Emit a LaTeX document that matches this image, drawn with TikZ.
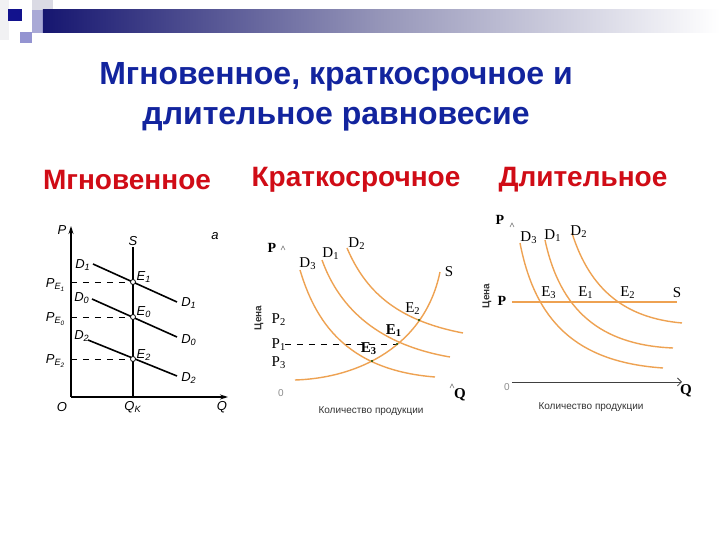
\documentclass[tikz,border=0pt]{standalone}
\usepackage{fontspec}
\setmainfont{Liberation Serif}
\setsansfont{Liberation Sans}
\usetikzlibrary{arrows.meta}
\definecolor{titleblue}{RGB}{18,36,158}
\definecolor{headred}{RGB}{208,12,22}
\definecolor{curveor}{RGB}{238,162,82}
\definecolor{barnavy}{RGB}{22,22,112}
\definecolor{barmid}{RGB}{150,150,185}

\begin{document}
\begin{tikzpicture}[x=0.5pt,y=-0.5pt,
    every text node part/.style={align=center},
    title/.style={font=\sffamily\bfseries\fontsize{16}{20}\selectfont, text=titleblue},
    head/.style={font=\sffamily\bfseries\fontsize{14}{16}\selectfont, text=headred},
    blab/.style={font=\sffamily\itshape\fontsize{6.5}{7}\selectfont, inner sep=0pt},
    slab/.style={font=\fontsize{7.5}{8}\selectfont, inner sep=0pt},
    smalltxt/.style={font=\sffamily\fontsize{5}{6}\selectfont, inner sep=0pt, text=black!80},
    dem/.style={curveor, line width=0.7pt},
    eqpt/.style={circle, draw, fill=white, inner sep=0pt, minimum size=2.5pt},
    tick/.style={black!55, line width=0.3pt}]
  \useasboundingbox[fill=white] (0,0) rectangle (720,540);

  % top bar
  \fill[blue!6!gray!10] (0,0) rectangle (9,40);
  \fill[blue!15!gray!25] (32,0) rectangle (53,10);
  \fill[blue!35!gray!50] (32,10) rectangle (43,33);
  \shade[left color=barnavy, right color=white, middle color=barmid] (43,10) rectangle (720,33);
  \fill[barnavy!80!blue] (8,9) rectangle (22,21);
  \fill[blue!40!gray!60] (20,32) rectangle (32,43);

  % titles
  \node[title] (Title) at (336,97) {Мгновенное, краткосрочное и\\длительное равновесие};
  \node[head] (HdMom) at (127,180) {Мгновенное};
  \node[head] (HdShort) at (356,180) {Краткосрочное};
  \node[head] (HdLong) at (583,180) {Длительное};

  % instant
  \draw[-{Stealth[length=4pt,width=2.5pt]}, line width=0.6pt] (71,397) -- (71,226);
  \draw[-{Stealth[length=4pt,width=2.5pt]}, line width=0.6pt] (71,397) -- (228,397);
  \node[blab] (MP) at (62,230) {P};
  \node[blab] (MO) at (62,407) {O};
  \node[blab] (MQ) at (222,407) {Q};
  \node[blab] (MQk) at (133,407) {Q\textsubscript{K}};
  \node[blab] (MS) at (133,241) {S};
  \node[blab] (Ma) at (215,236) {a};
  \draw[line width=1.1pt] (133,397) -- (133,247);

  \coordinate (ME1) at (133,282);
  \coordinate (ME0) at (133,317);
  \coordinate (ME2) at (133,359);
  \draw[line width=0.8pt] (93,264) -- (177,302);
  \draw[line width=0.8pt] (92,299) -- (177,337);
  \draw[line width=0.8pt] (88,340) -- (177,376);
  \draw[dashed] (71,282) -- (ME1);
  \draw[dashed] (71,317) -- (ME0);
  \draw[dashed] (71,359) -- (ME2);
  \node[eqpt] at (ME1) {};
  \node[eqpt] at (ME0) {};
  \node[eqpt] at (ME2) {};

  \node[blab] (MD1a) at (83,265) {D\textsubscript{1}};
  \node[blab] (MD1b) at (189,303) {D\textsubscript{1}};
  \node[blab] (MD0a) at (82,298) {D\textsubscript{0}};
  \node[blab] (MD0b) at (189,340) {D\textsubscript{0}};
  \node[blab] (MD2a) at (82,336) {D\textsubscript{2}};
  \node[blab] (MD2b) at (189,378) {D\textsubscript{2}};
  \node[blab] (MLE1) at (144,277) {E\textsubscript{1}};
  \node[blab] (MLE0) at (144,312) {E\textsubscript{0}};
  \node[blab] (MLE2) at (144,355) {E\textsubscript{2}};
  \node[blab] (MPE1) at (56,285) {P\textsubscript{E\textsubscript{1}}};
  \node[blab] (MPE0) at (56,319) {P\textsubscript{E\textsubscript{0}}};
  \node[blab] (MPE2) at (56,361) {P\textsubscript{E\textsubscript{2}}};

  % short run
  \node[slab, font=\bfseries\fontsize{7}{8}\selectfont] (KP) at (272,248) {P};
  \draw[tick] (281,250) -- (283,246) -- (285,250);
  \node[smalltxt, font=\sffamily\bfseries\fontsize{5}{6}\selectfont, rotate=90] (KCena) at (259,318) {Цена};
  \node[slab] (KP2) at (279,320) {P\textsubscript{2}};
  \node[slab] (KP1) at (279,345) {P\textsubscript{1}};
  \node[slab] (KP3) at (279,363) {P\textsubscript{3}};
  \node[smalltxt, text=black!45] (KO) at (281,393) {0};
  \node[slab, font=\bfseries\fontsize{7.5}{8}\selectfont] (KQ) at (460,395) {Q};
  \draw[tick] (450,388) -- (452,384) -- (454,388);
  \node[smalltxt] (KQty) at (371,411) {Количество продукции};

  \coordinate (KE1) at (397,344);
  \draw[dashed, line width=0.4pt] (285,344) -- (KE1);
  \draw[dem] (300,270) .. controls (315,320) and (345,370) .. (435,377);
  \draw[dem] (322,260) .. controls (340,310) and (380,345) .. (450,357);
  \draw[dem] (347,248) .. controls (365,290) and (395,320) .. (463,333);
  \draw[dem] (295,380) .. controls (360,378) and (425,345) .. (440,272);
  \fill[black!70!green] (KE1) circle (1.2);
  \fill[black!70!green] (372,361) circle (1.2);
  \fill[black!70!green] (419,320) circle (1.2);

  \node[slab] (KD3) at (308,264) {D\textsubscript{3}};
  \node[slab] (KD1) at (331,254) {D\textsubscript{1}};
  \node[slab] (KD2) at (357,244) {D\textsubscript{2}};
  \node[slab] (KS) at (449,272) {S};
  \node[slab] (KLE2) at (413,309) {E\textsubscript{2}};
  \node[slab, font=\bfseries\fontsize{7.5}{8}\selectfont] (KLE1) at (394,331) {E\textsubscript{1}};
  \node[slab, font=\bfseries\fontsize{7.5}{8}\selectfont] (KLE3) at (369,349) {E\textsubscript{3}};

  % long run
  \node[slab, font=\bfseries\fontsize{7}{8}\selectfont] (DP) at (500,220) {P};
  \draw[tick] (510,227) -- (512,223) -- (514,227);
  \node[smalltxt, font=\sffamily\bfseries\fontsize{5}{6}\selectfont, rotate=90] (DCena) at (487,296) {Цена};
  \node[slab, font=\bfseries\fontsize{7}{8}\selectfont] (DPl) at (502,301) {P};
  \node[smalltxt, text=black!45] (DO) at (507,387) {0};
  \node[slab, font=\bfseries\fontsize{7.5}{8}\selectfont] (DQ) at (686,391) {Q};
  \node[smalltxt] (DQty) at (591,407) {Количество продукции};
  \draw[black!75, line width=0.4pt, -{Straight Barb[length=2pt]}] (512,382) -- (682,382);

  \draw[dem] (512,302) -- (677,302);
  \draw[dem] (520,243) .. controls (535,320) and (575,362) .. (663,368);
  \draw[dem] (545,240) .. controls (560,310) and (600,345) .. (673,348);
  \draw[dem] (572,233) .. controls (590,290) and (625,318) .. (682,323);

  \node[slab] (DD3) at (529,238) {D\textsubscript{3}};
  \node[slab] (DD1) at (553,236) {D\textsubscript{1}};
  \node[slab] (DD2) at (579,232) {D\textsubscript{2}};
  \node[slab] (DS) at (677,293) {S};
  \node[slab] (DLE3) at (549,293) {E\textsubscript{3}};
  \node[slab] (DLE1) at (586,293) {E\textsubscript{1}};
  \node[slab] (DLE2) at (628,293) {E\textsubscript{2}};
\end{tikzpicture}
\end{document}
